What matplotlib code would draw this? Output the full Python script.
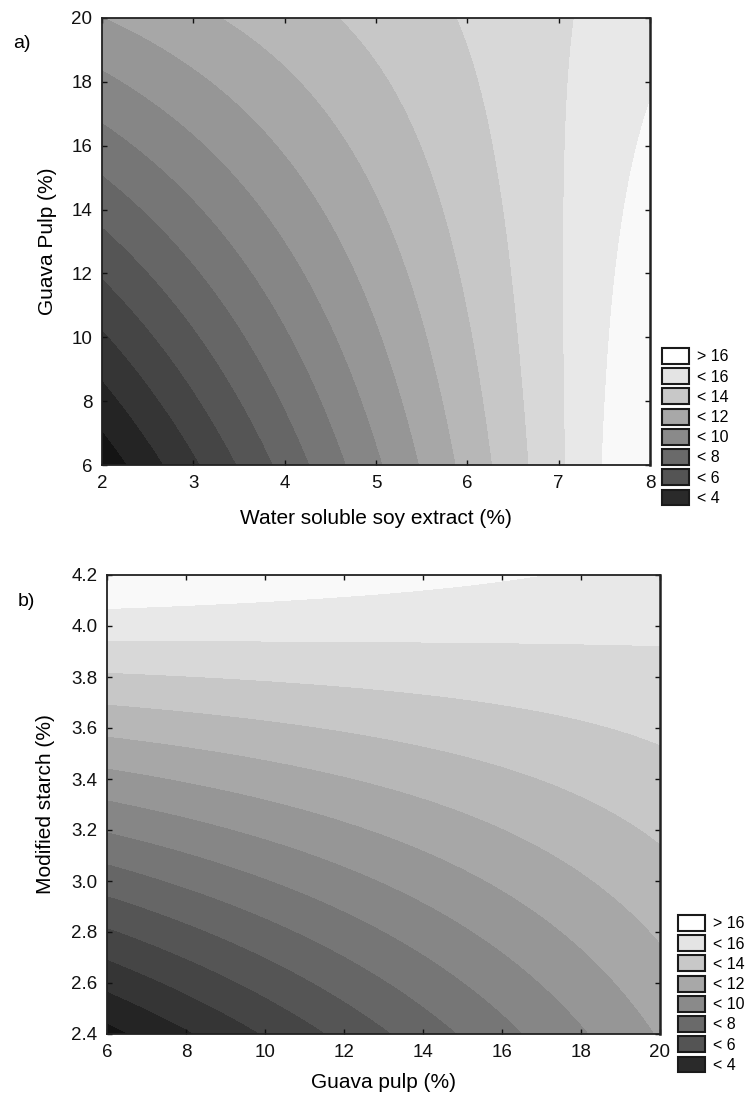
import numpy as np
import matplotlib
matplotlib.use("Agg")
import matplotlib.pyplot as plt
from matplotlib.patches import Patch
from matplotlib.ticker import FormatStrFormatter

plt.rcParams['font.family'] = ['Liberation Sans', 'DejaVu Sans']

# fitted response surfaces: z = b0 + bx*x + by*y + bxy*x*y + byy*y^2
coef_a = [-7.074, 3.24, 0.904, -0.123, -0.0015]   # x = soy extract, y = guava pulp
coef_b = [-24.72, 1.53, 10.32, -0.387, 0.0]       # x = guava pulp, y = modified starch

soy_range = [2, 8]
guava_range_a = [6, 20]
guava_range_b = [6, 20]
starch_range = [2.4, 4.2]

# contour boundaries, catch-all bands below/above
levels = [4, 5, 6, 7, 8, 9, 10, 11, 12, 13, 14, 15, 16, 17]
band_colors = ['#141414', '#242424', '#353535', '#454545', '#555555',
               '#666666', '#767676', '#868686', '#969696', '#a7a7a7',
               '#b7b7b7', '#c7c7c7', '#d8d8d8', '#e8e8e8', '#f9f9f9']

legend_labels = ['> 16', '< 16', '< 14', '< 12', '< 10', '< 8', '< 6', '< 4']
legend_colors = ['#ffffff', '#e4e4e4', '#c8c8c8', '#a8a8a8',
                 '#8a8a8a', '#6a6a6a', '#545454', '#2a2a2a']

a_ticks_x = [2, 3, 4, 5, 6, 7, 8]
a_ticks_y = [6, 8, 10, 12, 14, 16, 18, 20]
b_ticks_x = [6, 8, 10, 12, 14, 16, 18, 20]
b_ticks_y = [2.4, 2.6, 2.8, 3.0, 3.2, 3.4, 3.6, 3.8, 4.0, 4.2]

W, H = 747, 1099


def surface(coef, xr, yr):
    x = np.linspace(xr[0], xr[1], 400)
    y = np.linspace(yr[0], yr[1], 400)
    X, Y = np.meshgrid(x, y)
    b0, bx, by, bxy, byy = coef
    return X, Y, b0 + bx*X + by*Y + bxy*X*Y + byy*Y**2


def panel(fig, rect, coef, xr, yr, xticks, yticks, xlabel, ylabel,
          ylab_x, xlab_y, legend_xy):
    ax = fig.add_axes(rect)
    X, Y, Z = surface(coef, xr, yr)
    bounds = [-1e3] + levels + [1e3]
    ax.contourf(X, Y, Z, levels=bounds, colors=band_colors, antialiased=False)
    ax.set_xlim(xr)
    ax.set_ylim(yr)
    ax.set_xticks(xticks)
    ax.set_yticks(yticks)
    ax.tick_params(direction='in', length=3.5, width=1, top=True, right=True,
                   labelsize=13.5, pad=7, colors='#111111')
    for s in ax.spines.values():
        s.set_linewidth(1.3)
        s.set_color('#222222')
    ax.spines['right'].set_linewidth(1.8)
    ax.set_xlabel(xlabel, fontsize=15)
    ax.set_ylabel(ylabel, fontsize=15)
    ax.yaxis.set_label_coords(ylab_x, 0.5)
    ax.xaxis.set_label_coords(0.5, xlab_y)
    handles = [Patch(facecolor=c, edgecolor='#1a1a1a', linewidth=1.5)
               for c in legend_colors]
    ax.legend(handles=handles, labels=legend_labels, loc='upper left',
              bbox_to_anchor=(legend_xy[0]/W, 1 - legend_xy[1]/H),
              bbox_transform=fig.transFigure, frameon=False, fontsize=11.5,
              handlelength=1.7, handleheight=1.16, labelspacing=0.24,
              handletextpad=0.5, borderpad=0, borderaxespad=0)
    return ax


fig = plt.figure(figsize=(W/100, H/100), dpi=100)

ax_a = panel(fig, [102/W, 1-465/H, 548/W, 447/H], coef_a, soy_range,
             guava_range_a, a_ticks_x, a_ticks_y,
             'Water soluble soy extract (%)', 'Guava Pulp (%)',
             -0.082, -0.098, (662, 348))

ax_b = panel(fig, [107/W, 1-1034/H, 553/W, 459/H], coef_b, guava_range_b,
             starch_range, b_ticks_x, b_ticks_y,
             'Guava pulp (%)', 'Modified starch (%)',
             -0.094, -0.085, (678, 915))
ax_b.yaxis.set_major_formatter(FormatStrFormatter('%.1f'))

fig.text(13/W, 1-44/H, 'a)', fontsize=14, va='center')
fig.text(18/W, 1-602/H, 'b)', fontsize=14, va='center')

fig.savefig('out.png', dpi=100)
